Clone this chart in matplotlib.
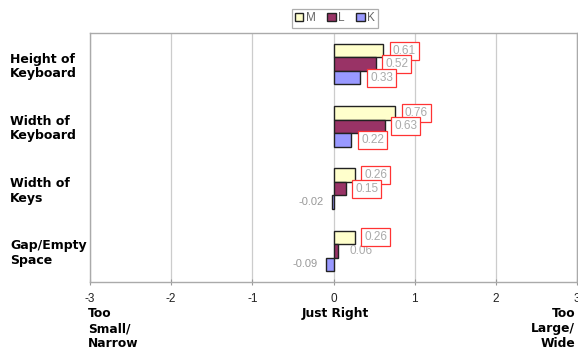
import matplotlib.pyplot as plt
import numpy as np

plt.rcParams['font.family'] = ['Liberation Sans', 'DejaVu Sans']

categories = ["Height of\nKeyboard", "Width of\nKeyboard", "Width of\nKeys", "Gap/Empty\nSpace"]
series_names = ["M", "L", "K"]
m_vals = [0.61, 0.76, 0.26, 0.26]
l_vals = [0.52, 0.63, 0.15, 0.06]
k_vals = [0.33, 0.22, -0.02, -0.09]
x_ticks = [-3, -2, -1, 0, 1, 2, 3]

colors = ["#FFFFCC", "#993366", "#9999FF"]
bold_font = "DejaVu Sans"

fig = plt.figure(figsize=(5.78, 3.55), dpi=100)
ax = fig.add_axes((90 / 578, 1 - 282 / 355, 487 / 578, 249 / 355))

bar_h = 0.218
y = np.arange(len(categories))
for i, (vals, name, c) in enumerate(zip([m_vals, l_vals, k_vals], series_names, colors)):
    pos = y + (i - 1) * bar_h
    ax.barh(pos, vals, height=bar_h, color=c, edgecolor="#222222", linewidth=1.0,
            label=name, zorder=3)
    for yy, v in zip(pos, vals):
        if v < 0:
            ax.annotate(f"{v:.2f}", (v, yy), xytext=(-6, 0), textcoords="offset points",
                        ha="right", va="center", fontsize=8, color="#999999")
        elif v >= 0.1:
            ax.annotate(f"{v:.2f}", (v, yy), xytext=(7, 0), textcoords="offset points",
                        ha="left", va="center", fontsize=8.5, color="#aaaaaa",
                        bbox=dict(boxstyle="square,pad=0.25", fc="white", ec="#ff3333", lw=0.9),
                        zorder=4)
        else:
            ax.annotate(f"{v:.2f}", (v, yy), xytext=(8, 0), textcoords="offset points",
                        ha="left", va="center", fontsize=8.5, color="#aaaaaa")

ax.set_xlim(-3, 3)
ax.set_ylim(3.5, -0.5)
ax.set_xticks(x_ticks)
ax.set_xticklabels([str(t) for t in x_ticks], fontsize=8.5, color="#222222")
ax.tick_params(axis="x", direction="inout", length=4, color="#999999", pad=6)
ax.set_yticks(y)
ax.set_yticklabels(categories, fontsize=9, fontweight="bold", ha="left",
                   family=bold_font, linespacing=1.15)
ax.tick_params(axis="y", length=0, pad=57.6)
ax.grid(axis="x", color="#cccccc", linewidth=0.9, zorder=0)
for s in ax.spines.values():
    s.set_color("#aaaaaa")
    s.set_linewidth(1.0)

fig.text(88 / 578, 1 - 307 / 355, "Too\nSmall/\nNarrow", ha="left", va="top",
         fontsize=8.8, fontweight="bold", family=bold_font, linespacing=1.2)
fig.text(335 / 578, 1 - 307 / 355, "Just Right", ha="center", va="top",
         fontsize=8.8, fontweight="bold", family=bold_font)
fig.text(575 / 578, 1 - 307 / 355, "Too\nLarge/\nWide", ha="right", va="top",
         fontsize=8.8, fontweight="bold", family=bold_font, linespacing=1.2,
         multialignment="right")

leg = fig.legend(loc="upper center", bbox_to_anchor=(335 / 578, 1 - 3 / 355), ncol=3,
                 fontsize=8.5, frameon=True, fancybox=False, handlelength=0.7, handleheight=0.7,
                 handletextpad=0.2, columnspacing=1.0, borderpad=0.3, labelcolor="#666666")
leg.get_frame().set_edgecolor("#999999")
leg.get_frame().set_linewidth(0.9)

fig.savefig("out.png", dpi=100)
